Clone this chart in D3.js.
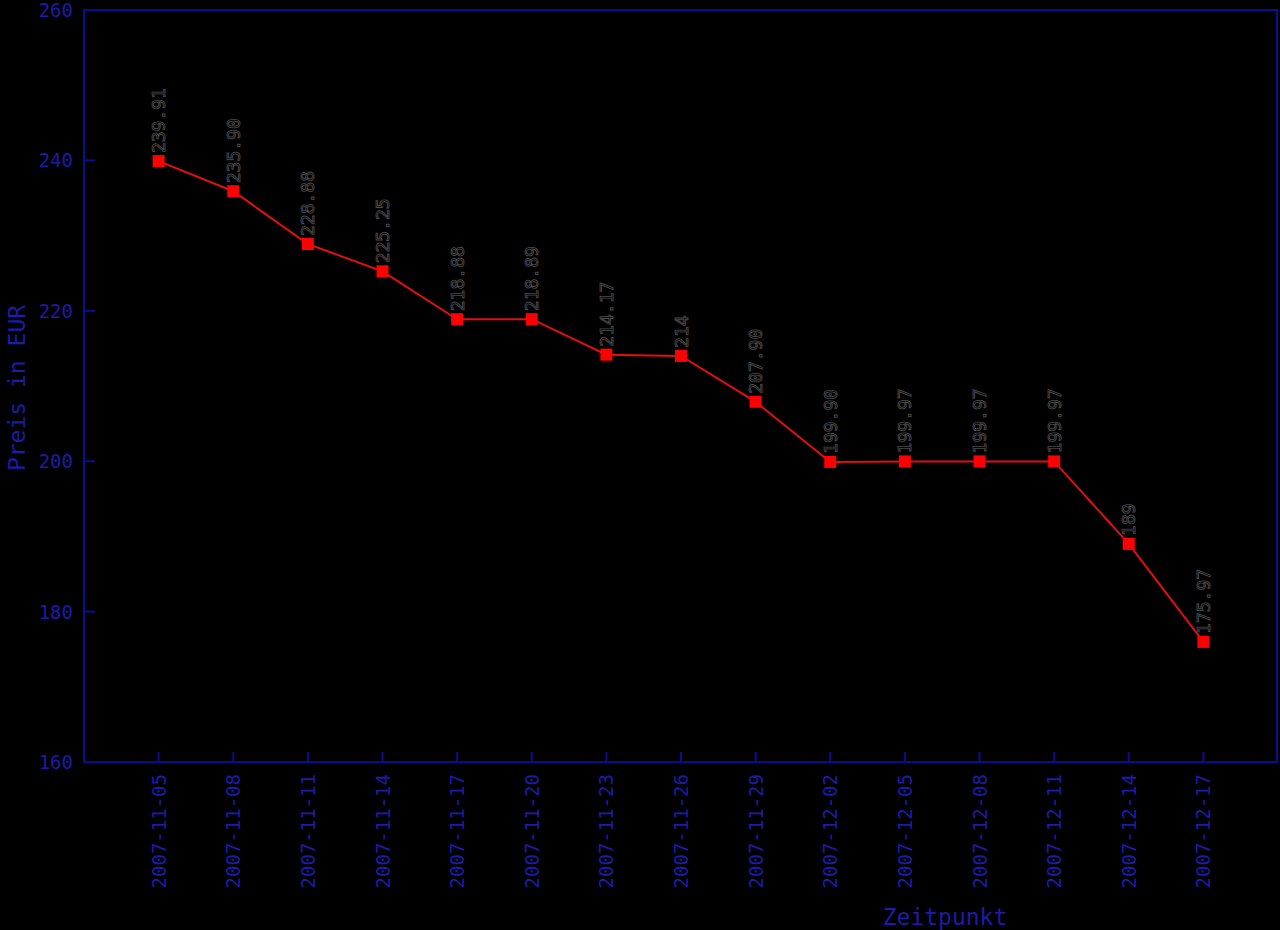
<!DOCTYPE html>
<html><head><meta charset="utf-8">
<script src="https://cdn.jsdelivr.net/npm/d3@7"></script>
<style>html,body{margin:0;padding:0;background:#000;}svg{display:block;}</style>
</head><body>
<script>
const dates = ["2007-11-05","2007-11-08","2007-11-11","2007-11-14","2007-11-17","2007-11-20","2007-11-23","2007-11-26","2007-11-29","2007-12-02","2007-12-05","2007-12-08","2007-12-11","2007-12-14","2007-12-17"];
const prices = [239.91,235.90,228.88,225.25,218.88,218.89,214.17,214,207.90,199.90,199.97,199.97,199.97,189,175.97];
const priceLabels = ["239.91","235.90","228.88","225.25","218.88","218.89","214.17","214","207.90","199.90","199.97","199.97","199.97","189","175.97"];
const yTicks = [160,180,200,220,240,260];

const W=1280,H=930;
const L=84,R=1277,T=10,B=762;
const blue="#1c1ca8", frame="#0c0c90";
const font="'DejaVu Sans Mono', monospace";

const svg=d3.select("body").append("svg").attr("width",W).attr("height",H).style("background","#000");
const x=d3.scaleLinear().domain([-1,dates.length]).range([L,R+1]);
const y=d3.scaleLinear().domain([160,260]).range([B,T]);

// frame
svg.append("rect").attr("x",L).attr("y",T).attr("width",R-L).attr("height",B-T)
  .attr("fill","none").attr("stroke",frame).attr("stroke-width",2);

// y ticks
const ya=svg.append("g");
ya.selectAll("line").data(yTicks.filter(d=>d>160&&d<260)).join("line")
  .attr("x1",L).attr("x2",L+11).attr("y1",d=>y(d)).attr("y2",d=>y(d))
  .attr("stroke",frame).attr("stroke-width",2);
ya.selectAll("text").data(yTicks).join("text")
  .attr("x",73).attr("y",d=>y(d)).attr("text-anchor","end").attr("dominant-baseline","central")
  .attr("fill",blue).style("font-family",font).style("font-size","19px").text(d=>d);

// x ticks
const xa=svg.append("g");
xa.selectAll("line").data(dates).join("line")
  .attr("x1",(d,i)=>x(i)).attr("x2",(d,i)=>x(i)).attr("y1",B).attr("y2",B-10)
  .attr("stroke",frame).attr("stroke-width",2);
xa.selectAll("text").data(dates).join("text")
  .attr("transform",(d,i)=>`translate(${x(i)},774) rotate(-90)`)
  .attr("text-anchor","end").attr("dominant-baseline","central")
  .attr("fill",blue).style("font-family",font).style("font-size","19px").text(d=>d);

// axis titles
svg.append("text").attr("transform",`translate(17,388) rotate(-90)`)
  .attr("text-anchor","middle").attr("dominant-baseline","central")
  .attr("fill",blue).style("font-family",font).style("font-size","23px").text("Preis in EUR");
svg.append("text").attr("x",945).attr("y",925).attr("text-anchor","middle")
  .attr("fill",blue).style("font-family",font).style("font-size","23px").text("Zeitpunkt");

// line
const line=d3.line().x((d,i)=>x(i)).y(d=>y(d));
svg.append("path").datum(prices).attr("d",line).attr("fill","none")
  .attr("stroke","#e01010").attr("stroke-width",2);

// markers
svg.selectAll("rect.m").data(prices).join("rect").attr("class","m")
  .attr("x",(d,i)=>x(i)-6).attr("y",d=>y(d)-6).attr("width",12).attr("height",12)
  .attr("fill","#ff0000");

// value labels
svg.selectAll("text.v").data(prices).join("text").attr("class","v")
  .attr("transform",(d,i)=>`translate(${x(i)},${y(d)-8}) rotate(-90)`)
  .attr("text-anchor","start").attr("dominant-baseline","central")
  .attr("fill","none").attr("stroke","#4a4a4a").attr("stroke-width",0.9)
  .style("font-family",font).style("font-size","18px").text((d,i)=>priceLabels[i]);
</script>
</body></html>
